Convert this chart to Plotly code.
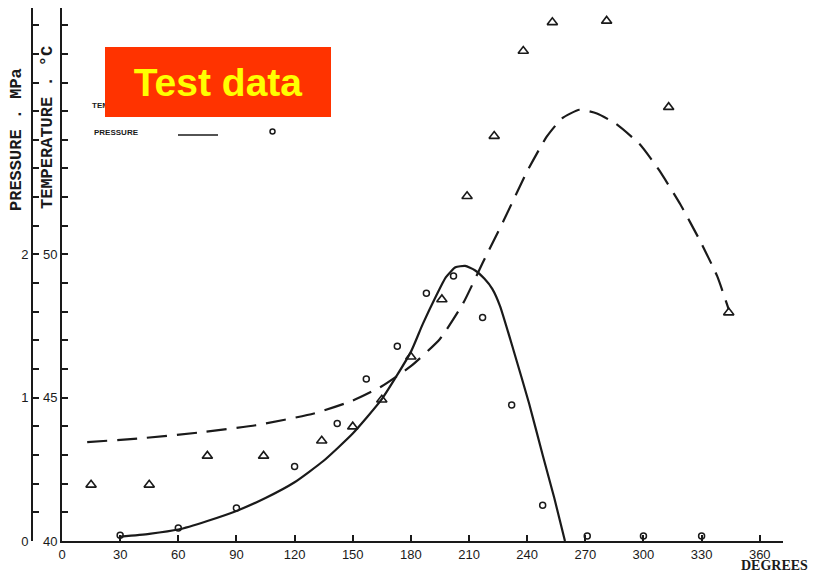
import plotly.graph_objects as go

# crank angle (degrees) vs measured pressure (MPa) - circles + solid fitted line
press_pts_deg = [30, 60, 90, 120, 142, 157, 173, 188, 202, 217, 232, 248, 271, 300, 330]
press_pts_mpa = [0.04, 0.09, 0.23, 0.52, 0.82, 1.13, 1.36, 1.73, 1.85, 1.56, 0.95, 0.25, 0.035, 0.035, 0.035]
press_fit_deg = [30, 45, 60, 75, 90, 105, 120, 135, 150, 165, 180, 186, 193, 198, 203, 208, 213, 218, 222, 226, 233, 241, 248, 254, 259.5]
press_fit_mpa = [0.03, 0.05, 0.08, 0.14, 0.21, 0.30, 0.41, 0.56, 0.75, 0.99, 1.32, 1.51, 1.71, 1.84, 1.91, 1.92, 1.89, 1.83, 1.76, 1.64, 1.33, 0.96, 0.60, 0.30, 0.0]

# crank angle vs temperature (deg C) - triangles + dashed fitted line
temp_pts_deg = [15, 45, 75, 104, 134, 150, 165, 180, 196, 209, 223, 238, 253, 281, 313, 344]
temp_pts_c = [41.96, 41.96, 42.97, 42.97, 43.5, 43.99, 44.93, 46.43, 48.43, 52.03, 54.13, 57.1, 58.1, 58.15, 55.14, 47.97]
temp_fit_deg = [13, 40, 70, 100, 130, 150, 165, 180, 195, 207, 217, 228, 240, 250, 258, 267, 276, 286, 298, 308, 319, 329, 338, 344]
temp_fit_c = [43.45, 43.58, 43.78, 44.04, 44.45, 44.90, 45.40, 46.10, 47.05, 48.30, 49.70, 51.20, 52.90, 54.10, 54.75, 55.05, 54.92, 54.55, 53.85, 52.95, 51.75, 50.50, 49.25, 48.08]

x_ticks = [0, 30, 60, 90, 120, 150, 180, 210, 240, 270, 300, 330, 360]
temp_ticks = list(range(40, 59))
temp_tick_labels = [str(t) if t in (40, 45, 50) else '' for t in temp_ticks]
press_ticks = [round(0.2 * i, 1) for i in range(19)]
press_tick_labels = [str(int(p)) if p in (0, 1, 2) else '' for p in press_ticks]

INK = '#1a1a1a'
OFF = 8  # page body margin in the browser
W, H = 816 - OFF, 572 - OFF
ML, MR, MT, MB = 12, 33, 0, 31
PW, PH = W - ML - MR, H - MT - MB


def fx(px):
    # screen x pixel -> paper fraction
    return (px - OFF - ML) / PW


def fy(py):
    # screen y pixel -> paper fraction
    return (H - MB - (py - OFF)) / PH


fig = go.Figure()

fig.add_trace(go.Scatter(
    x=temp_fit_deg, y=temp_fit_c, mode='lines',
    line=dict(color=INK, width=2.2, dash='20px,10px', shape='spline', smoothing=0.5),
    hoverinfo='skip', showlegend=False,
))
fig.add_trace(go.Scatter(
    x=press_fit_deg, y=press_fit_mpa, yaxis='y2', mode='lines',
    line=dict(color=INK, width=2.2, shape='spline', smoothing=0.5),
    hoverinfo='skip', showlegend=False,
))
fig.add_trace(go.Scatter(
    x=temp_pts_deg, y=temp_pts_c, mode='markers', name='Temperature',
    marker=dict(symbol='triangle-up-open', size=9, color=INK, line=dict(width=1.6)),
    showlegend=False,
))
fig.add_trace(go.Scatter(
    x=press_pts_deg, y=press_pts_mpa, yaxis='y2', mode='markers', name='Pressure',
    marker=dict(symbol='circle-open', size=6, color=INK, line=dict(width=1.5)),
    showlegend=False,
))

tick_font = dict(family='Liberation Sans', size=13, color=INK)
title_font = dict(family='Liberation Mono', size=17, color=INK)

annotations = [
    dict(text='<b>PRESSURE . MPa</b>', x=fx(16), y=fy(140), textangle=-90, font=title_font),
    dict(text='<b>TEMPERATURE . °C</b>', x=fx(47), y=fy(128), textangle=-90, font=title_font),
    dict(text='<b>DEGREES</b>', x=fx(774), y=fy(565), borderpad=0,
         font=dict(family='Liberation Serif', size=14, color=INK)),
    dict(text='<b>TEMPERATURE</b>', x=fx(90), y=fy(105), xanchor='left',
         font=dict(family='Liberation Sans', size=8, color=INK)),
    dict(text='<b>PRESSURE</b>', x=fx(92), y=fy(132), xanchor='left',
         font=dict(family='Liberation Sans', size=8, color=INK)),
    # red overlay label
    dict(text='<b>Test data</b>', x=fx(218), y=fy(82), width=226, height=70,
         bgcolor='#FF3300', borderpad=0, borderwidth=0,
         font=dict(family='Liberation Sans', size=39, color='#FFFF00')),
]
for a in annotations:
    a.update(xref='paper', yref='paper', showarrow=False)
    a.setdefault('xanchor', 'center')
    a.setdefault('yanchor', 'middle')

shapes = [
    dict(type='line', x0=fx(178), x1=fx(218), y0=fy(135), y1=fy(135),
         line=dict(color=INK, width=1.6)),
    dict(type='line', x0=fx(178), x1=fx(218), y0=fy(107), y1=fy(107),
         line=dict(color=INK, width=1.6, dash='dash')),
    dict(type='circle', x0=fx(270), x1=fx(275), y0=fy(129), y1=fy(134),
         line=dict(color=INK, width=1.5)),
]
for s in shapes:
    s.update(xref='paper', yref='paper')

fig.update_layout(
    width=W, height=H,
    margin=dict(l=ML, r=MR, t=MT, b=MB),
    paper_bgcolor='white', plot_bgcolor='white',
    showlegend=False,
    xaxis=dict(
        domain=[fx(62), 1], range=[0, 372],
        showline=True, linecolor=INK, linewidth=2,
        ticks='inside', ticklen=6, tickwidth=1.5, tickcolor=INK,
        tickvals=x_ticks, tickfont=tick_font,
        showgrid=False, zeroline=False, automargin=False,
    ),
    yaxis=dict(
        range=[40, 58.6],
        showline=True, linecolor=INK, linewidth=2,
        ticks='inside', ticklen=6, tickwidth=1.5, tickcolor=INK,
        tickvals=temp_ticks, ticktext=temp_tick_labels, tickfont=tick_font,
        showgrid=False, zeroline=False, automargin=False,
    ),
    yaxis2=dict(
        overlaying='y', anchor='free', position=fx(32), side='left',
        range=[0, 3.72],
        showline=True, linecolor=INK, linewidth=2,
        ticks='inside', ticklen=6, tickwidth=1.5, tickcolor=INK,
        tickvals=press_ticks, ticktext=press_tick_labels, tickfont=tick_font,
        showgrid=False, zeroline=False, automargin=False,
    ),
    annotations=annotations,
    shapes=shapes,
)

fig.write_html('out.html')
